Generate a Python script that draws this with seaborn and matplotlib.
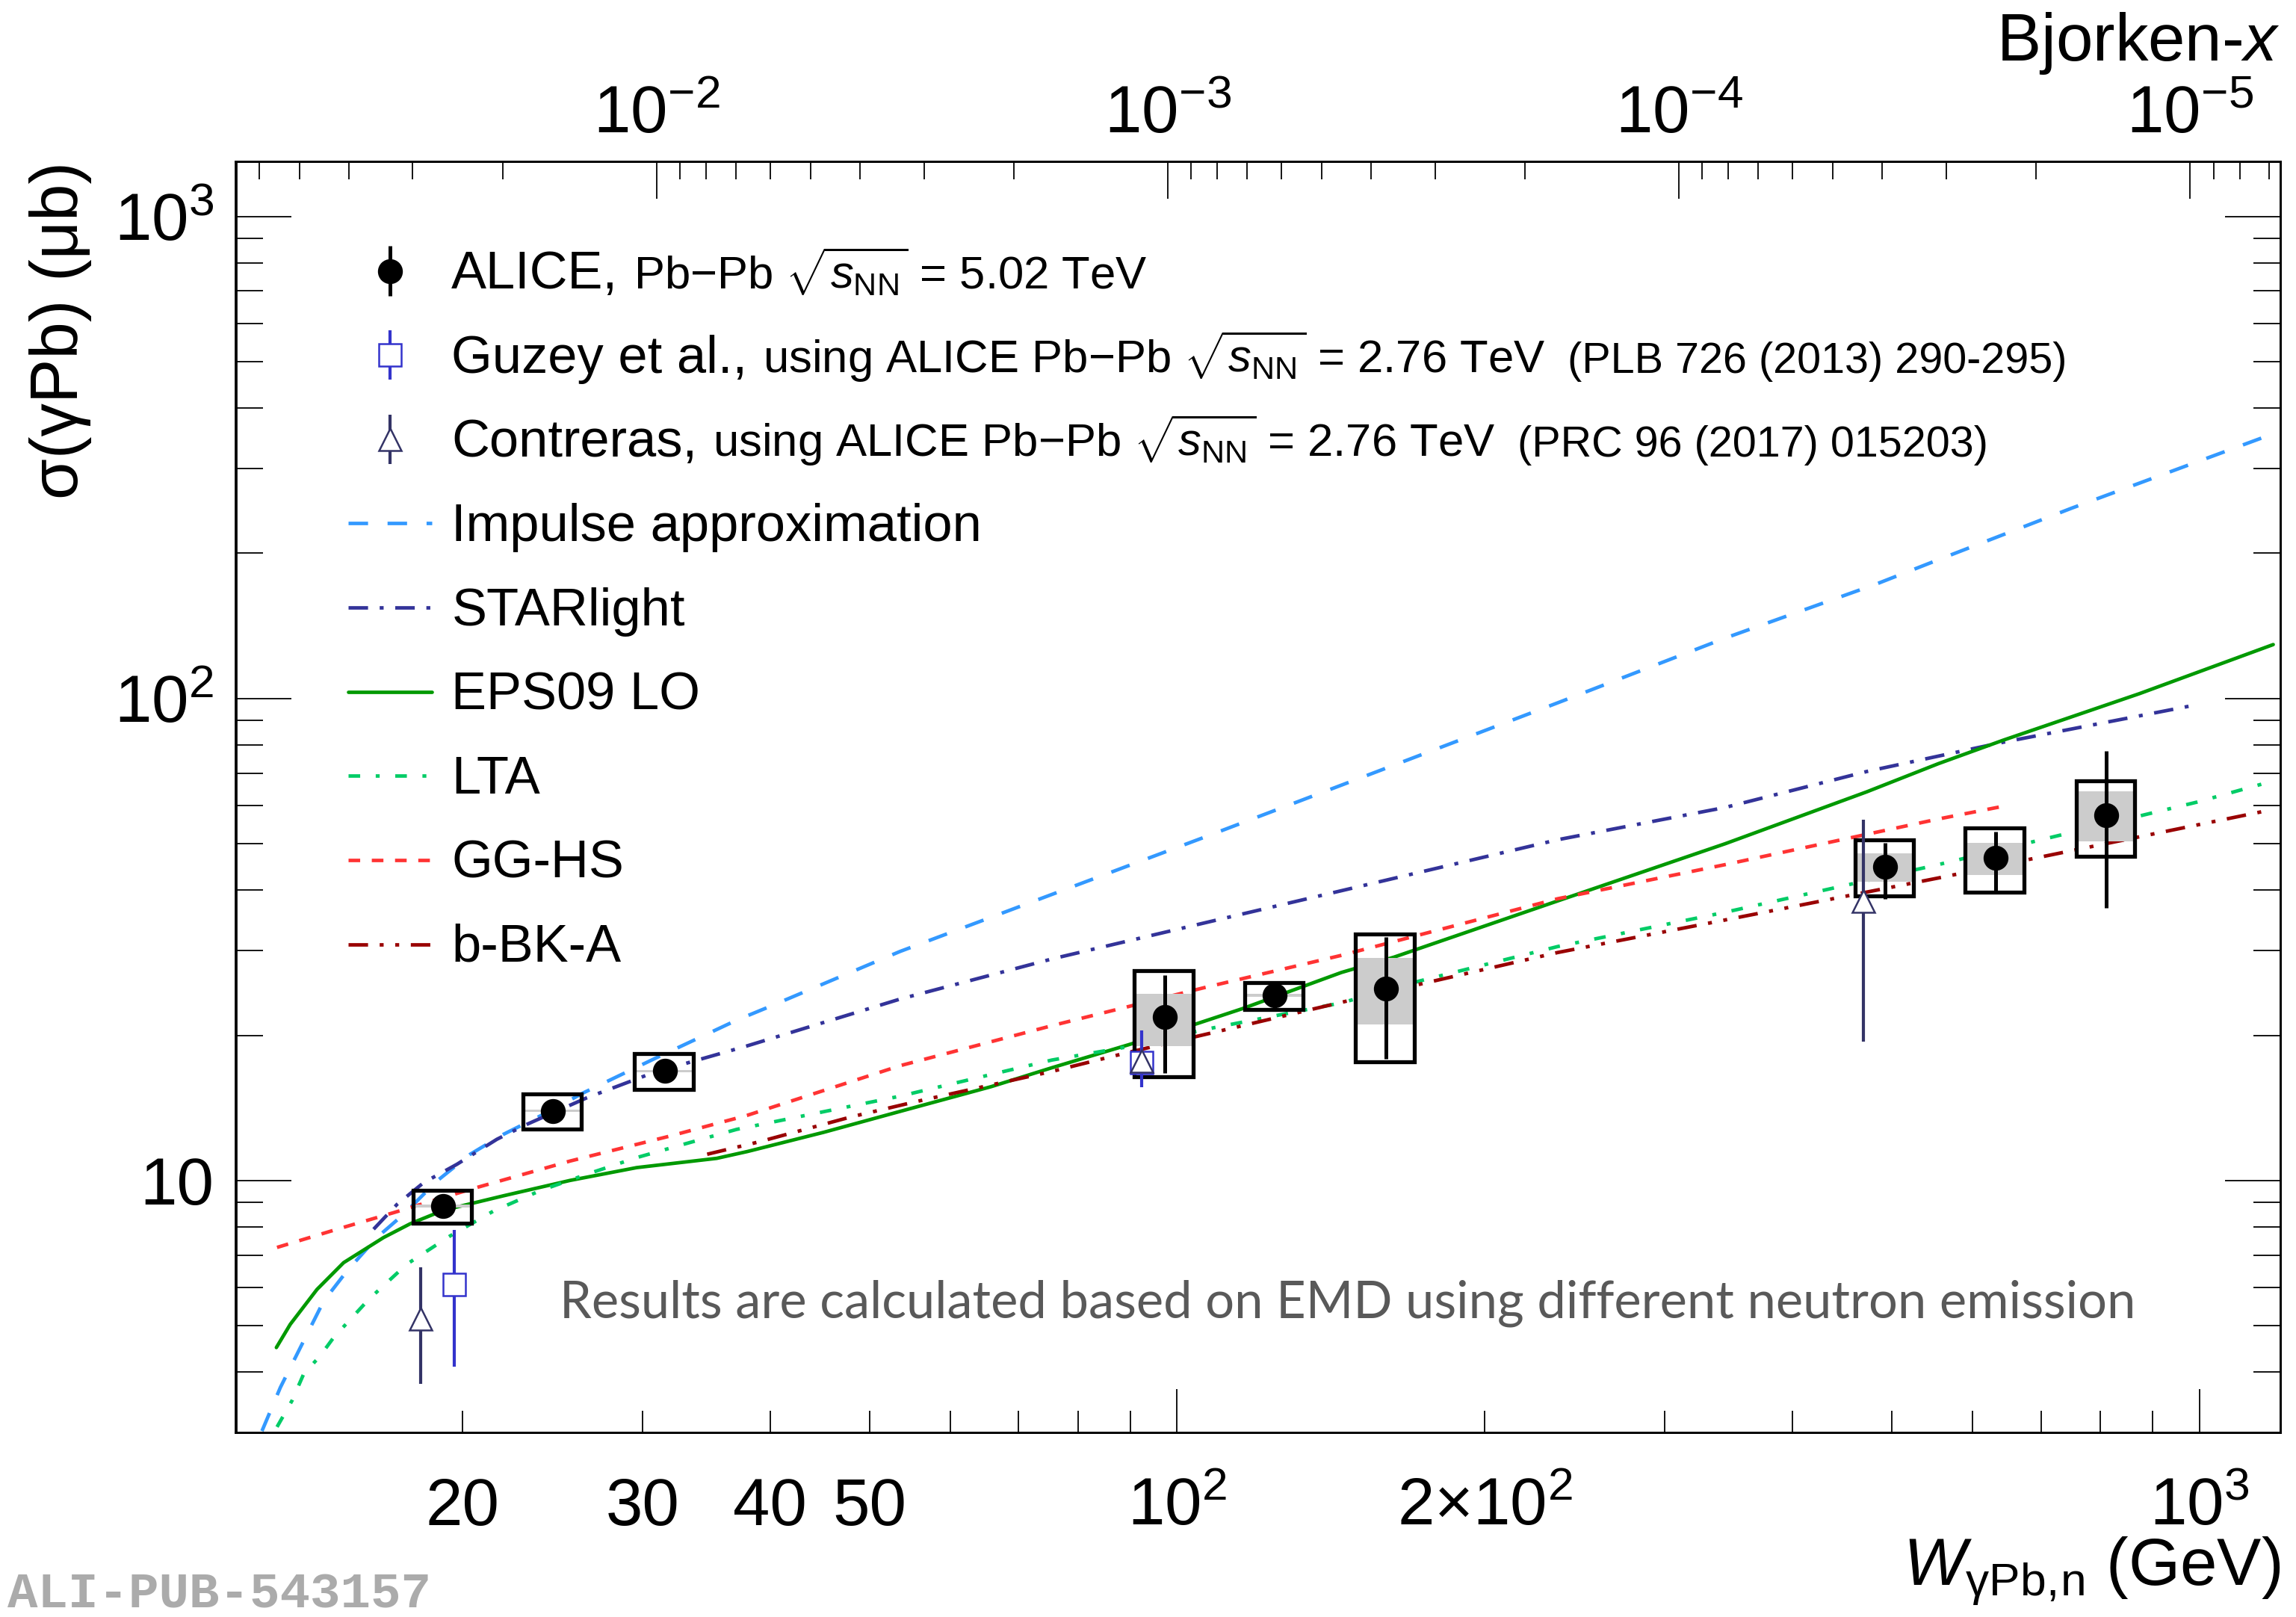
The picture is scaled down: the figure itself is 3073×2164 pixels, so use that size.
import numpy as np
import matplotlib
matplotlib.use("Agg")
import matplotlib.pyplot as plt
import seaborn as sns
from matplotlib.container import ErrorbarContainer
from matplotlib.legend_handler import HandlerErrorbar
from matplotlib.ticker import FixedLocator, FixedFormatter, NullFormatter, LogLocator

# ---------------------------------------------------------------- data
# ALICE Pb-Pb 5.02 TeV
alice_W = np.array([19.15, 24.52, 31.54, 97.2, 124.6, 160.0, 492.8, 632.0, 811.0])
alice_sig = np.array([8.85, 13.93, 16.87, 21.8, 24.2, 25.0, 44.8, 46.7, 57.3])
alice_stat_lo = np.array([8.72, 13.72, 16.60, 16.7, 23.4, 17.9, 38.4, 39.9, 36.7])
alice_stat_hi = np.array([8.98, 14.14, 17.14, 26.7, 25.0, 32.0, 50.1, 52.9, 77.8])
alice_syst_lo = np.array([8.15, 12.76, 15.45, 16.4, 22.6, 17.6, 38.9, 39.6, 47.1])
alice_syst_hi = np.array([9.55, 15.09, 18.32, 27.2, 25.7, 32.4, 50.9, 53.8, 67.5])
alice_corr_lo = np.array([8.80, 13.85, 16.77, 19.0, 24.05, 21.05, 41.6, 43.0, 50.5])
alice_corr_hi = np.array([8.90, 14.01, 16.97, 24.4, 24.35, 28.9, 47.7, 50.2, 64.1])

# Guzey et al.
guzey_W = np.array([19.62, 92.4])
guzey_sig = np.array([6.09, 17.58])
guzey_lo = np.array([4.10, 15.63])
guzey_hi = np.array([7.88, 20.47])

# Contreras
contr_W = np.array([18.2, 92.4, 469.4])
contr_sig = np.array([5.17, 17.7, 37.9])
contr_lo = np.array([3.78, 16.9, 19.4])
contr_hi = np.array([6.61, 18.5, 56.0])

# model curves
ia_W = [12.73, 13.27, 13.88, 14.63, 15.42, 16.49, 17.51, 18.88, 20.35, 21.93, 24.18,
        26.27, 30.74, 37.09, 39.67, 53.56, 75.44, 106.3, 150.9, 235.7, 343.8, 483.2,
        555.5, 749.8, 1196.0]
ia_S = [3.02, 3.72, 4.50, 5.62, 6.49, 7.61, 8.50, 9.97, 11.33, 12.46, 13.82,
        15.2, 17.84, 21.5, 22.8, 29.84, 39.2, 51.5, 68.3, 97.9, 133.4, 172.7,
        193.9, 248.0, 357.5]

st_W = [16.37, 17.26, 18.32, 19.75, 21.61, 23.12, 26.47, 30.74, 37.93, 53.56, 75.44,
        106.3, 144.8, 235.7, 343.8, 472.6, 639.2, 979.3]
st_S = [7.92, 8.92, 9.89, 10.80, 12.17, 13.07, 14.84, 16.73, 19.0, 23.77, 28.8,
        34.2, 39.9, 50.9, 59.4, 70.5, 80.9, 96.4]

eps_W = [13.15, 13.57, 14.41, 15.30, 16.74, 17.78, 19.16, 21.93, 25.49, 29.61, 35.45,
         38.0, 45.1, 53.56, 65.8, 75.44, 89.6, 104.5, 115.9, 144.8, 163.0, 235.7,
         343.8, 472.6, 555.5, 643.0, 874.0, 1181.0]
eps_S = [4.50, 5.03, 5.94, 6.75, 7.61, 8.13, 8.67, 9.29, 10.0, 10.63, 11.11,
         11.48, 12.58, 13.9, 15.65, 17.13, 19.11, 21.13, 22.72, 27.0, 29.05, 38.0,
         49.95, 63.97, 73.2, 81.9, 102.3, 129.3]

lta_W = [13.17, 13.62, 13.98, 14.52, 14.96, 16.2, 17.64, 19.45, 21.45, 23.82, 26.47,
         29.61, 32.9, 37.09, 53.56, 75.44, 89.6, 106.3, 144.8, 173.0, 235.7, 343.8,
         555.5, 994.0, 1181.0]
lta_S = [3.08, 3.49, 3.96, 4.33, 4.72, 5.67, 6.70, 7.67, 8.64, 9.52, 10.3,
         11.15, 11.88, 12.76, 14.95, 17.77, 18.94, 20.55, 23.35, 25.95, 30.56, 36.0,
         45.2, 60.9, 67.4]

gg_W = [13.17, 15.08, 17.12, 20.35, 25.49, 31.92, 38.0, 53.56, 75.44, 106.3, 144.8,
        235.7, 343.8, 555.5, 650.0]
gg_S = [7.26, 7.92, 8.57, 9.58, 10.97, 12.36, 13.65, 17.29, 20.94, 25.11, 29.3,
        38.4, 45.2, 56.2, 60.0]

bbk_W = [34.7, 38.99, 47.9, 55.4, 75.44, 89.6, 115.9, 148.3, 235.7, 343.8, 555.5, 1170.0]
bbk_S = [11.33, 12.02, 13.53, 14.55, 16.83, 18.43, 20.94, 23.69, 29.7, 34.7, 42.4, 58.6]

curve_names = ["Impulse approximation", "STARlight", "EPS09 LO", "LTA", "GG-HS", "b-BK-A"]
curve_data = {
    "Impulse approximation": (ia_W, ia_S),
    "STARlight": (st_W, st_S),
    "EPS09 LO": (eps_W, eps_S),
    "LTA": (lta_W, lta_S),
    "GG-HS": (gg_W, gg_S),
    "b-BK-A": (bbk_W, bbk_S),
}

legend_labels = ["ALICE,", "Guzey et al.,", "Contreras,"] + curve_names
legend_rest = {
    0: r"Pb$-$Pb $\sqrt{s_{\mathrm{NN}}}$ = 5.02 TeV",
    1: r"using ALICE Pb$-$Pb $\sqrt{s_{\mathrm{NN}}}$ = 2.76 TeV",
    2: r"using ALICE Pb$-$Pb $\sqrt{s_{\mathrm{NN}}}$ = 2.76 TeV",
}
legend_suffix = {1: "(PLB 726 (2013) 290-295)", 2: "(PRC 96 (2017) 015203)"}

x_major_ticks = [100, 1000]
x_major_labels = [r"$10^{2}$", r"$10^{3}$"]
x_minor_ticks = [20, 30, 40, 50, 60, 70, 80, 90, 200, 300, 400, 500, 600, 700, 800, 900]
x_minor_labels = ["20", "30", "40", "50", "", "", "", "", r"2$\times$10$^{2}$",
                  "", "", "", "", "", "", ""]
y_major_ticks = [10, 100, 1000]
y_major_labels = ["10", r"$10^{2}$", r"$10^{3}$"]
bj_major_ticks = [1e-2, 1e-3, 1e-4, 1e-5]
bj_major_labels = [r"$10^{-2}$", r"$10^{-3}$", r"$10^{-4}$", r"$10^{-5}$"]

M_JPSI = 3.097
W_RANGE = (12.0, 1200.0)
SIG_RANGE = (3.0, 1300.0)

note_text = "Results are calculated based on EMD using different neutron emission"
watermark = "ALI-PUB-543157"

# ---------------------------------------------------------------- style
sns.set_theme(style="ticks")
plt.rcParams.update({
    "font.family": ["Liberation Sans", "DejaVu Sans"],
    "mathtext.fontset": "custom",
    "mathtext.rm": "Liberation Sans",
    "mathtext.it": "Liberation Sans:italic",
    "mathtext.bf": "Liberation Sans:bold",
    "mathtext.sf": "Liberation Sans",
    "lines.scale_dashes": False,
    "axes.edgecolor": "black",
    "axes.linewidth": 1.0,
    "xtick.color": "black",
    "ytick.color": "black",
    "text.color": "black",
    "axes.labelcolor": "black",
    "axes.unicode_minus": True,
})

curve_style = {
    "Impulse approximation": dict(color="#3399ff", lw=1.7, ls=(0, (9.4, 9.4))),
    "STARlight": dict(color="#333399", lw=1.7, ls=(0, (9.4, 5.6, 1.9, 5.6))),
    "EPS09 LO": dict(color="#009900", lw=1.7, ls="-"),
    "LTA": dict(color="#00cc66", lw=1.7, ls=(0, (5.6, 7.5, 1.9, 7.5))),
    "GG-HS": dict(color="#ff3333", lw=1.7, ls=(0, (5.6, 5.6))),
    "b-BK-A": dict(color="#990000", lw=1.7, ls=(0, (9.4, 5.6, 1.9, 5.6, 1.9, 5.6))),
}

DPI = 200
FIG_W, FIG_H = 3073, 2164
PT = 72.0 / DPI
fig = plt.figure(figsize=(FIG_W / DPI, FIG_H / DPI), dpi=DPI)
fig.patch.set_facecolor("white")
AX_L, AX_R, AX_T, AX_B = 315.5, 3052.0, 216.0, 1917.0
ax = fig.add_axes([AX_L / FIG_W, 1 - AX_B / FIG_H,
                   (AX_R - AX_L) / FIG_W, (AX_B - AX_T) / FIG_H])
ax.set_facecolor("white")
ax.set_xscale("log")
ax.set_yscale("log")

# ---------------------------------------------------------------- curves
line_handles = {}
for name in curve_names:
    Wv, Sv = curve_data[name]
    st = curve_style[name]
    sns.lineplot(x=np.asarray(Wv), y=np.asarray(Sv), ax=ax, color=st["color"],
                 linewidth=st["lw"], linestyle=st["ls"], estimator=None, sort=False,
                 legend=False, label=name, zorder=2)
    line_handles[name] = ax.lines[-1]

# ---------------------------------------------------------------- ALICE boxes
BOX_HALF = 0.066
bx_left = alice_W * (1 - BOX_HALF)
bx_width = alice_W * 2 * BOX_HALF
ax.bar(bx_left, alice_corr_hi - alice_corr_lo, width=bx_width, bottom=alice_corr_lo,
       align="edge", color="#cccccc", edgecolor="none", linewidth=0, zorder=3)
ax.bar(bx_left, alice_syst_hi - alice_syst_lo, width=bx_width, bottom=alice_syst_lo,
       align="edge", fill=False, edgecolor="black", linewidth=1.9, zorder=4)

eb_alice = ax.errorbar(alice_W, alice_sig,
                       yerr=[alice_sig - alice_stat_lo, alice_stat_hi - alice_sig],
                       fmt="o", color="black", ms=11, elinewidth=1.8, capsize=0, zorder=5)
eb_guzey = ax.errorbar(guzey_W, guzey_sig, yerr=[guzey_sig - guzey_lo, guzey_hi - guzey_sig],
                       fmt="s", color="#3333cc", mfc="white", mec="#3333cc", mew=0.9,
                       ms=10.5, elinewidth=1.5, capsize=0, zorder=6)
eb_contr = ax.errorbar(contr_W, contr_sig, yerr=[contr_sig - contr_lo, contr_hi - contr_sig],
                       fmt="^", color="#333366", mfc="white", mec="#333366", mew=0.9,
                       ms=11, elinewidth=1.5, capsize=0, zorder=7)

# ---------------------------------------------------------------- axes
ax.set_xlim(*W_RANGE)
ax.set_ylim(*SIG_RANGE)
ax.xaxis.set_major_locator(FixedLocator(x_major_ticks))
ax.xaxis.set_major_formatter(FixedFormatter(x_major_labels))
ax.xaxis.set_minor_locator(FixedLocator(x_minor_ticks))
ax.xaxis.set_minor_formatter(FixedFormatter(x_minor_labels))
ax.yaxis.set_major_locator(FixedLocator(y_major_ticks))
ax.yaxis.set_major_formatter(FixedFormatter(y_major_labels))
ax.yaxis.set_minor_locator(LogLocator(base=10, subs=np.arange(2, 10), numticks=50))
ax.yaxis.set_minor_formatter(NullFormatter())

ax.tick_params(axis="x", which="both", direction="in", bottom=True, top=False,
               labelsize=32, pad=124 * PT, width=1.8 * PT, colors="black")
ax.tick_params(axis="x", which="major", length=58 * PT)
ax.tick_params(axis="x", which="minor", length=29 * PT)
ax.tick_params(axis="y", which="both", direction="in", left=True, right=True,
               labelsize=32, pad=29 * PT, width=1.8 * PT, colors="black")
ax.tick_params(axis="y", which="major", length=74 * PT)
ax.tick_params(axis="y", which="minor", length=36 * PT)
for sp in ax.spines.values():
    sp.set_linewidth(1.0)
    sp.set_color("black")

ax.set_ylabel("σ(γPb) (μb)", fontsize=32, loc="top")
ax.yaxis.set_label_coords(-0.0703, 1.0)
ax.set_xlabel(r"$W_{\mathrm{γPb,\!n}}$ (GeV)", fontsize=32, loc="right")
ax.xaxis.label.set_verticalalignment("baseline")
ax.xaxis.set_label_coords(1.0, -(2122 - AX_B) / (AX_B - AX_T))

# Bjorken-x axis on top
ax2 = ax.twiny()
ax2.set_xscale("log")
ax2.set_xlim((M_JPSI / W_RANGE[0]) ** 2, (M_JPSI / W_RANGE[1]) ** 2)
ax2.xaxis.set_major_locator(FixedLocator(bj_major_ticks))
ax2.xaxis.set_major_formatter(FixedFormatter(bj_major_labels))
ax2.xaxis.set_minor_locator(LogLocator(base=10, subs=np.arange(2, 10), numticks=100))
ax2.xaxis.set_minor_formatter(NullFormatter())
ax2.tick_params(axis="x", which="both", direction="in", top=True, bottom=False,
                labelsize=32, pad=38 * PT, width=1.8 * PT, colors="black")
ax2.tick_params(axis="x", which="major", length=50 * PT)
ax2.tick_params(axis="x", which="minor", length=24 * PT)
for sp in ax2.spines.values():
    sp.set_linewidth(1.0)
    sp.set_color("black")
ax2.set_xlabel("Bjorken-$x$", fontsize=32, loc="right")
ax2.xaxis.set_label_coords(1.0, 1 + (AX_T - 81) / (AX_B - AX_T))

# ---------------------------------------------------------------- legend
LEG_FS = 25.4
REST_FS = 22.2
handles = [eb_alice, eb_guzey, eb_contr] + [line_handles[n] for n in curve_names]
leg = ax.legend(handles, legend_labels, loc="upper left", bbox_to_anchor=(0.055, 0.9339),
                frameon=False, fontsize=LEG_FS, handlelength=1.59, handletextpad=0.37,
                handleheight=1.6, labelspacing=0.311, borderpad=0, borderaxespad=0,
                numpoints=1,
                handler_map={ErrorbarContainer: HandlerErrorbar(yerr_size=0.47)})
leg_texts = leg.get_texts()
for t in leg_texts:
    t.set_position((0, 10.8))
LP_D = 0.212 * LEG_FS  # descent below baseline of the legend text box (points)
rest_artists = {}
for idx, s in legend_rest.items():
    rest_artists[idx] = ax.annotate(
        s, xy=(1, 0), xycoords=leg_texts[idx], xytext=(7.5, LP_D),
        textcoords="offset points", fontsize=REST_FS, ha="left", va="baseline",
        zorder=10, annotation_clip=False)
for idx, s in legend_suffix.items():
    ax.annotate(s, xy=(1, 0), xycoords=(rest_artists[idx], leg_texts[idx]),
                xytext=(10.5, LP_D), textcoords="offset points", fontsize=20.7,
                ha="left", va="baseline", zorder=11, annotation_clip=False)

# ---------------------------------------------------------------- texts
ax.text((749 - AX_L) / (AX_R - AX_L), (AX_B - 1763.4) / (AX_B - AX_T), note_text,
        transform=ax.transAxes, fontsize=24.7, family=["Lato", "DejaVu Sans"],
        color="#595959", va="baseline", ha="left", zorder=8)
fig.text(10 / FIG_W, 12 / FIG_H, watermark, family=["Liberation Mono", "DejaVu Sans Mono"],
         weight="bold", fontsize=24.3, color="#ababab", va="baseline", ha="left")

# tick labels aligned on baselines (as in the reference)
for tk in ax.xaxis.get_major_ticks() + ax.xaxis.get_minor_ticks():
    tk.label1.set_verticalalignment("baseline")
for tk in ax2.xaxis.get_major_ticks() + ax2.xaxis.get_minor_ticks():
    tk.label2.set_verticalalignment("baseline")

fig.savefig("out.png", dpi=DPI, facecolor="white")
